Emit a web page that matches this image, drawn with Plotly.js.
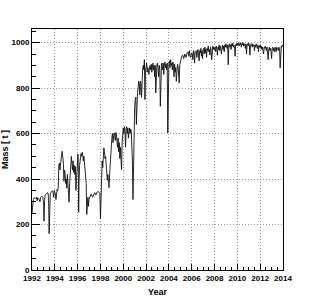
<!DOCTYPE html>
<html><head><meta charset="utf-8">
<script src="https://cdn.plot.ly/plotly-3.0.1.min.js"></script>
<style>html,body{margin:0;padding:0;background:#fff}</style>
</head><body><div id="chart" style="width:315px;height:302px"></div>
<script>
const years = [
1992.00,1992.05,1992.12,1992.2,1992.3,1992.38,1992.45,1992.5,1992.6,1992.7,1992.75,1992.85,1992.95,
1993.02,1993.05,1993.1,1993.15,1993.25,1993.32,1993.4,1993.45,1993.5,1993.55,1993.6,1993.7,1993.8,1993.85,1993.9,1993.95,
1994.0,1994.05,1994.1,1994.15,1994.2,1994.25,1994.3,1994.35,1994.4,1994.45,1994.5,1994.55,1994.6,1994.65,1994.7,1994.75,1994.8,1994.85,1994.9,1994.95,
1995.0,1995.05,1995.1,1995.15,1995.2,1995.25,1995.3,1995.35,1995.4,1995.45,1995.5,1995.55,1995.6,1995.65,1995.7,1995.75,1995.8,1995.85,1995.9,1995.95,
1996.0,1996.03,1996.06,1996.09,1996.12,1996.17,1996.22,1996.3,1996.35,1996.4,1996.45,1996.5,1996.55,1996.6,1996.65,1996.7,1996.75,1996.8,1996.85,1996.9,1996.95,
1997.0,1997.1,1997.2,1997.3,1997.4,1997.5,1997.6,1997.7,1997.8,1997.9,1997.95,
1998.0,1998.05,1998.1,1998.15,1998.2,1998.25,1998.3,1998.35,1998.4,1998.45,1998.5,1998.55,1998.6,1998.65,1998.75,1998.8,1998.9,1998.95,
1999.0,1999.05,1999.1,1999.15,1999.2,1999.25,1999.3,1999.35,1999.4,1999.45,1999.5,1999.55,1999.6,1999.65,1999.7,1999.75,1999.8,1999.85,1999.9,1999.95,
2000.0,2000.05,2000.1,2000.15,2000.2,2000.25,2000.3,2000.35,2000.4,2000.45,2000.5,2000.55,2000.6,2000.65,2000.7,2000.75,2000.8,2000.85,2000.9,2000.95,
2001.0,2001.05,2001.1,2001.15,2001.2,2001.25,2001.3,2001.35,2001.4,2001.45,2001.5,2001.55,2001.6,2001.65,2001.7,2001.75,2001.8,2001.85,2001.9,2001.95,
2002.0,2002.05,2002.1,2002.15,2002.2,2002.25,2002.3,2002.35,2002.4,2002.45,2002.5,2002.55,2002.6,2002.65,2002.7,2002.75,2002.8,2002.85,2002.9,2002.95,
2003.0,2003.05,2003.1,2003.15,2003.2,2003.25,2003.3,2003.35,2003.4,2003.45,2003.5,2003.55,2003.6,2003.65,2003.7,2003.75,2003.8,2003.85,2003.9,2003.95,
2004.0,2004.05,2004.1,2004.15,2004.2,2004.25,2004.3,2004.35,2004.4,2004.45,2004.5,2004.55,2004.6,2004.65,2004.7,2004.75,2004.8,2004.85,2004.9,2004.95,
2005.0,2005.1,2005.2,2005.3,2005.4,2005.5,2005.6,2005.7,2005.75,2005.8,2005.85,2005.9,
2006.0,2006.05,2006.1,2006.15,2006.2,2006.25,2006.3,2006.4,2006.45,2006.5,2006.55,2006.6,2006.65,2006.7,2006.75,2006.8,2006.85,2006.9,2006.95,
2007.0,2007.05,2007.1,2007.15,2007.2,2007.25,2007.3,2007.35,2007.4,2007.45,2007.5,2007.55,2007.6,2007.65,2007.7,2007.75,2007.8,2007.85,2007.9,2007.95,
2008.0,2008.05,2008.1,2008.15,2008.2,2008.25,2008.3,2008.35,2008.4,2008.45,2008.5,2008.55,2008.6,2008.65,2008.7,2008.75,2008.8,2008.85,2008.9,2008.95,
2009.0,2009.05,2009.1,2009.15,2009.2,2009.25,2009.3,2009.35,2009.4,2009.45,2009.5,2009.55,2009.6,2009.65,2009.7,2009.75,2009.8,2009.85,2009.9,2009.95,
2010.0,2010.05,2010.1,2010.15,2010.2,2010.25,2010.3,2010.35,2010.4,2010.45,2010.5,2010.55,2010.6,2010.65,2010.7,2010.75,2010.8,2010.85,2010.9,2010.95,
2011.0,2011.05,2011.1,2011.15,2011.2,2011.25,2011.3,2011.35,2011.4,2011.45,2011.5,2011.55,2011.6,2011.65,2011.7,2011.75,2011.8,2011.85,2011.9,2011.95,
2012.0,2012.05,2012.1,2012.15,2012.2,2012.25,2012.3,2012.35,2012.4,2012.45,2012.5,2012.55,2012.6,2012.65,2012.7,2012.75,2012.8,2012.85,2012.9,2012.95,
2013.0,2013.05,2013.1,2013.15,2013.2,2013.25,2013.3,2013.35,2013.4,2013.45,2013.5,2013.55,2013.6,2013.65,2013.7,2013.75,2013.8,2013.85,2013.9,2013.95,
2014.0
];
const mass = [
250,300,310,318,315,320,305,318,312,300,318,325,320,
290,215,300,330,335,340,338,320,160,300,335,345,348,340,320,350,
345,335,310,340,355,350,360,460,470,440,480,500,510,522,505,470,390,440,420,380,
400,360,420,380,330,298,380,440,430,500,470,440,480,430,460,420,455,350,400,460,
500,510,440,254,380,460,490,512,500,518,505,480,500,470,440,400,380,244,300,320,280,
310,325,335,320,335,340,330,342,345,340,338,
226,330,460,480,450,500,537,520,490,500,470,440,395,420,362,420,520,560,
580,600,560,590,603,590,570,605,595,560,540,580,520,560,490,540,500,442,560,610,
625,600,630,610,540,620,630,600,625,580,620,625,600,620,610,560,480,310,520,640,
720,750,760,640,760,780,800,830,820,770,830,820,760,850,880,900,880,925,749,880,
900,910,870,890,880,860,895,900,880,905,870,895,910,880,900,850,900,779,880,905,
910,890,850,900,880,720,870,910,900,880,910,860,900,915,890,905,880,910,603,870,
910,920,890,925,900,910,880,915,900,850,905,870,890,830,880,905,900,870,823,900,
920,935,945,930,950,935,955,960,940,965,945,935,
955,950,925,965,955,910,960,965,935,960,970,945,920,965,955,975,940,965,930,
970,975,950,980,955,970,935,975,965,985,960,970,945,980,965,925,975,985,970,980,
970,980,960,985,975,945,980,970,990,965,985,975,950,985,990,970,985,960,990,980,
995,985,975,990,903,985,995,980,990,970,995,985,998,980,990,975,940,990,995,985,
998,990,1000,985,995,990,1000,980,995,990,1000,985,995,990,975,995,950,990,995,985,
998,990,945,985,995,990,980,995,985,990,965,990,980,995,985,975,990,960,985,980,
990,975,985,970,980,955,950,980,975,985,970,965,980,940,925,970,980,965,975,960,
930,975,980,965,975,960,980,970,960,980,970,975,965,980,975,889,975,985,980,990,
985
];
const xTickVals = [1992,1994,1996,1998,2000,2002,2004,2006,2008,2010,2012,2014];
const yTickVals = [0,200,400,600,800,1000];
const xTitle = 'Year';
const yTitle = 'Mass [ t ]';

const tickFont = {family: 'Liberation Sans, Arial, sans-serif', size: 8, color: '#000', weight: 'bold'};
const titleFont = {family: 'Liberation Sans, Arial, sans-serif', size: 9, color: '#000', weight: 'bold'};
const common = {
  showline: true, linecolor: '#000', linewidth: 1, mirror: true,
  ticks: 'inside', ticklen: 6, tickwidth: 1, tickcolor: '#000',
  showgrid: true, gridcolor: '#999999', griddash: '1px,2px', gridwidth: 1,
  zeroline: false, tickfont: tickFont
};
const layout = {
  width: 315, height: 302,
  margin: {l: 32, r: 32, t: 29, b: 32},
  paper_bgcolor: '#fff', plot_bgcolor: '#fff',
  showlegend: false,
  xaxis: Object.assign({}, common, {
    range: [1992, 2014], tickmode: 'array', tickvals: xTickVals,
    minor: {dtick: 0.5, tick0: 1992, ticks: 'inside', ticklen: 3, tickcolor: '#000', showgrid: false},
    title: {text: xTitle, font: titleFont, standoff: 7}
  }),
  yaxis: Object.assign({}, common, {
    range: [0, 1060], tickmode: 'array', tickvals: yTickVals, ticklen: 8,
    minor: {dtick: 50, tick0: 0, ticks: 'inside', ticklen: 4, tickcolor: '#000', showgrid: false},
    title: {text: yTitle, font: titleFont, standoff: 4}
  })
};
const trace = {x: years, y: mass, type: 'scatter', mode: 'lines',
  line: {color: '#111', width: 0.9}, hoverinfo: 'skip'};
Plotly.newPlot('chart', [trace], layout, {staticPlot: true, displayModeBar: false});
</script></body></html>
